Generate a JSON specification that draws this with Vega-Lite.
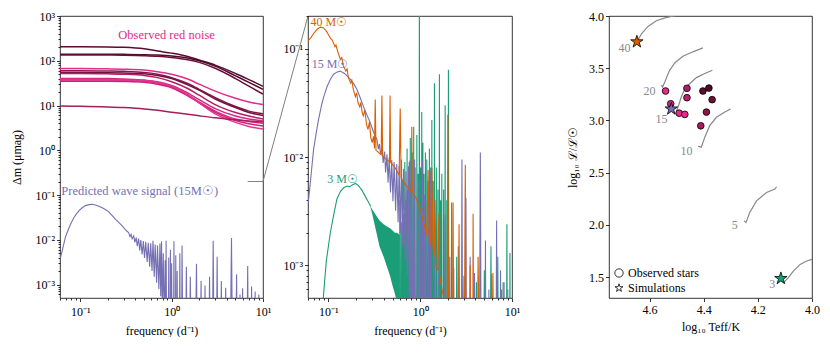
{
  "$schema": "https://vega.github.io/schema/vega-lite/v6.json",
  "padding": {"left": 10, "top": 9, "right": 0, "bottom": 0},
  "config": {
    "font": "Liberation Serif",
    "view": {"stroke": "black", "strokeWidth": 0.8},
    "axis": {"domain": false, "grid": false, "labelFont": "Liberation Serif", "titleFont": "Liberation Serif", "labelFontSize": 12, "titleFontSize": 12, "titleFontWeight": "normal", "labelColor": "black", "titleColor": "black", "tickColor": "black", "labelPadding": 2, "titlePadding": 5, "tickWidth": 0.8, "tickSize": 3.5},
    "legend": {"labelFont": "Liberation Serif", "labelFontSize": 12, "labelColor": "black"}
  },
  "datasets": {
    "noise": [
      {"f": 0.06, "c1": 205, "c2": 140, "c3": 135, "c4": 67, "c5": 60, "c6": 55, "c7": 52, "c8": 40, "c9": 37, "c10": 35, "c11": 38, "c12": 9.7},
      {"f": 0.1, "c1": 205, "c2": 140, "c3": 135, "c4": 67, "c5": 60, "c6": 55, "c7": 52, "c8": 40, "c9": 37, "c10": 35, "c11": 38, "c12": 9.6},
      {"f": 0.2, "c1": 204, "c2": 140, "c3": 134, "c4": 66, "c5": 59, "c6": 54, "c7": 51, "c8": 40, "c9": 37, "c10": 35, "c11": 38, "c12": 9.3},
      {"f": 0.3, "c1": 200, "c2": 139, "c3": 133, "c4": 65, "c5": 58, "c6": 53, "c7": 50, "c8": 39, "c9": 36.5, "c10": 34.5, "c11": 37.5, "c12": 9},
      {"f": 0.5, "c1": 185, "c2": 137, "c3": 130, "c4": 62, "c5": 55, "c6": 51, "c7": 47, "c8": 37, "c9": 35, "c10": 33, "c11": 36, "c12": 8.4},
      {"f": 0.7, "c1": 165, "c2": 134, "c3": 126, "c4": 57, "c5": 50, "c6": 47, "c7": 42, "c8": 34, "c9": 32, "c10": 30, "c11": 33, "c12": 7.8},
      {"f": 1, "c1": 148, "c2": 128, "c3": 118, "c4": 50, "c5": 42, "c6": 40, "c7": 34, "c8": 28, "c9": 26, "c10": 25, "c11": 27, "c12": 7.1},
      {"f": 1.5, "c1": 125, "c2": 115, "c3": 105, "c4": 39, "c5": 31, "c6": 29, "c7": 24, "c8": 19, "c9": 17, "c10": 16.5, "c11": 17.5, "c12": 6.4},
      {"f": 2, "c1": 104, "c2": 100, "c3": 92, "c4": 30, "c5": 23, "c6": 22, "c7": 17, "c8": 13.5, "c9": 12, "c10": 11.5, "c11": 11.5, "c12": 5.9},
      {"f": 3, "c1": 80, "c2": 76, "c3": 68, "c4": 21, "c5": 15, "c6": 14, "c7": 10.5, "c8": 8.5, "c9": 7.5, "c10": 7, "c11": 6.5, "c12": 5.3},
      {"f": 5, "c1": 52, "c2": 46, "c3": 40, "c4": 14.5, "c5": 9.5, "c6": 9, "c7": 7, "c8": 5.8, "c9": 5, "c10": 4.6, "c11": 4.2, "c12": 4.8},
      {"f": 7, "c1": 38, "c2": 33, "c3": 27, "c4": 12, "c5": 7.5, "c6": 7, "c7": 5.8, "c8": 5, "c9": 4.4, "c10": 3.9, "c11": 3.4, "c12": 4.5},
      {"f": 10, "c1": 27, "c2": 23, "c3": 18, "c4": 10.5, "c5": 6.5, "c6": 6, "c7": 5, "c8": 4.5, "c9": 4, "c10": 3.5, "c11": 3, "c12": 4.3}
    ],
    "m15": [
      {"f": 0.06, "v": 0.0038}, {"f": 0.061, "v": 0.0041}, {"f": 0.065, "v": 0.007}, {"f": 0.069, "v": 0.0117}, {"f": 0.074, "v": 0.017}, {"f": 0.078, "v": 0.022}, {"f": 0.085, "v": 0.031}, {"f": 0.09, "v": 0.037}, {"f": 0.097, "v": 0.045}, {"f": 0.105, "v": 0.052}, {"f": 0.114, "v": 0.058}, {"f": 0.125, "v": 0.061}, {"f": 0.135, "v": 0.062}, {"f": 0.15, "v": 0.059}, {"f": 0.174, "v": 0.052}, {"f": 0.19, "v": 0.047}, {"f": 0.205, "v": 0.042}, {"f": 0.22, "v": 0.036}, {"f": 0.242, "v": 0.029}, {"f": 0.26, "v": 0.025}, {"f": 0.286, "v": 0.0207}, {"f": 0.31, "v": 0.017}, {"f": 0.325, "v": 0.0155}, {"f": 0.338, "v": 0.0145},
      {"f": 0.35, "v": 0.0118}, {"f": 0.36, "v": 0.0132}, {"f": 0.37, "v": 0.0105}, {"f": 0.385, "v": 0.0122}, {"f": 0.395, "v": 0.0088}, {"f": 0.41, "v": 0.0112}, {"f": 0.42, "v": 0.0072}, {"f": 0.435, "v": 0.0106}, {"f": 0.447, "v": 0.0058}, {"f": 0.46, "v": 0.0099}, {"f": 0.475, "v": 0.0047}, {"f": 0.49, "v": 0.0094}, {"f": 0.505, "v": 0.0039}, {"f": 0.52, "v": 0.009}, {"f": 0.54, "v": 0.0032}, {"f": 0.555, "v": 0.0086}, {"f": 0.575, "v": 0.0025}, {"f": 0.59, "v": 0.0083}, {"f": 0.61, "v": 0.002}, {"f": 0.625, "v": 0.0095}, {"f": 0.645, "v": 0.0015}, {"f": 0.66, "v": 0.0078}, {"f": 0.685, "v": 0.0011}, {"f": 0.7, "v": 0.0074}, {"f": 0.725, "v": 0.0008}, {"f": 0.745, "v": 0.0082}, {"f": 0.76, "v": 0.00055}, {"f": 0.775, "v": 0.0093}, {"f": 0.79, "v": 0.0003}, {"f": 0.81, "v": 0.005}, {"f": 0.83, "v": 0.0001}, {"f": 0.85, "v": 0.0035}, {"f": 0.86, "v": 1e-8}, {"f": 0.87, "v": 0.0095}, {"f": 0.9, "v": 1e-8}, {"f": 0.93, "v": 0.004}, {"f": 0.95, "v": 1e-8}, {"f": 0.97, "v": 0.006}, {"f": 0.985, "v": 1e-8}, {"f": 1.0, "v": 0.003}, {"f": 1.03, "v": 1e-8}, {"f": 1.06, "v": 0.0093}, {"f": 1.08, "v": 1e-8}, {"f": 1.11, "v": 0.0045}, {"f": 1.13, "v": 1e-8}, {"f": 1.15, "v": 0.002}, {"f": 1.19, "v": 1e-8}, {"f": 1.23, "v": 0.005}, {"f": 1.26, "v": 1e-8}, {"f": 1.3, "v": 0.0074}, {"f": 1.37, "v": 1e-8}, {"f": 1.45, "v": 0.0025}, {"f": 1.52, "v": 1e-8}, {"f": 1.6, "v": 0.0015}, {"f": 1.73, "v": 1e-8}, {"f": 1.87, "v": 0.0029}, {"f": 1.98, "v": 1e-8}, {"f": 2.1, "v": 0.0012}, {"f": 2.2, "v": 1e-8}, {"f": 2.32, "v": 0.00095}, {"f": 2.45, "v": 1e-8}, {"f": 2.6, "v": 0.0015}, {"f": 2.72, "v": 1e-8}, {"f": 2.85, "v": 0.0095}, {"f": 3.0, "v": 1e-8}, {"f": 3.15, "v": 0.0042}, {"f": 3.3, "v": 1e-8}, {"f": 3.5, "v": 0.0012}, {"f": 3.7, "v": 1e-8}, {"f": 3.9, "v": 0.00085}, {"f": 4.2, "v": 1e-8}, {"f": 4.52, "v": 0.011}, {"f": 4.8, "v": 1e-8}, {"f": 5.14, "v": 0.0017}, {"f": 5.4, "v": 1e-8}, {"f": 5.6, "v": 0.0006}, {"f": 5.8, "v": 1e-8}, {"f": 5.98, "v": 0.00083}, {"f": 6.4, "v": 1e-8}, {"f": 6.8, "v": 0.0026}, {"f": 7.1, "v": 1e-8}, {"f": 7.5, "v": 0.0009}, {"f": 7.85, "v": 1e-8}, {"f": 8.2, "v": 0.0007}, {"f": 8.6, "v": 1e-8}, {"f": 9.0, "v": 0.0006}, {"f": 9.3, "v": 1e-8}, {"f": 9.6, "v": 0.0005}, {"f": 9.8, "v": 1e-8}
    ],
    "m3": [
      {"s": 0, "f": 0.083, "v": 1e-8}, {"s": 0, "f": 0.088, "v": 0.0005}, {"s": 0, "f": 0.095, "v": 0.0011}, {"s": 0, "f": 0.105, "v": 0.002}, {"s": 0, "f": 0.115, "v": 0.003}, {"s": 0, "f": 0.124, "v": 0.0041}, {"s": 0, "f": 0.135, "v": 0.0048}, {"s": 0, "f": 0.147, "v": 0.0052}, {"s": 0, "f": 0.16, "v": 0.0054}, {"s": 0, "f": 0.17, "v": 0.0053}, {"s": 0, "f": 0.18, "v": 0.0055}, {"s": 0, "f": 0.197, "v": 0.0057}, {"s": 0, "f": 0.21, "v": 0.0055}, {"s": 0, "f": 0.23, "v": 0.005}, {"s": 0, "f": 0.25, "v": 0.0044}, {"s": 0, "f": 0.27, "v": 0.0039}, {"s": 0, "f": 0.29, "v": 0.0035},
      {"s": 1, "f": 0.59, "v": 1e-8}, {"s": 1, "f": 0.6, "v": 0.004}, {"s": 1, "f": 0.61, "v": 1e-8}, {"s": 1, "f": 0.62, "v": 0.0025}, {"s": 1, "f": 0.63, "v": 1e-8}, {"s": 1, "f": 0.64, "v": 0.006}, {"s": 1, "f": 0.65, "v": 1e-8}, {"s": 1, "f": 0.66, "v": 0.003}, {"s": 1, "f": 0.67, "v": 1e-8}, {"s": 1, "f": 0.68, "v": 0.009}, {"s": 1, "f": 0.69, "v": 1e-8}, {"s": 1, "f": 0.7, "v": 0.004}, {"s": 1, "f": 0.71, "v": 1e-8}, {"s": 1, "f": 0.72, "v": 0.012}, {"s": 1, "f": 0.73, "v": 1e-8}, {"s": 1, "f": 0.74, "v": 0.005}, {"s": 1, "f": 0.75, "v": 1e-8}, {"s": 1, "f": 0.76, "v": 0.009}, {"s": 1, "f": 0.77, "v": 1e-8}, {"s": 1, "f": 0.78, "v": 0.015}, {"s": 1, "f": 0.79, "v": 1e-8}, {"s": 1, "f": 0.8, "v": 0.006}, {"s": 1, "f": 0.81, "v": 1e-8}, {"s": 1, "f": 0.82, "v": 0.011}, {"s": 1, "f": 0.835, "v": 1e-8}, {"s": 1, "f": 0.85, "v": 0.019}, {"s": 1, "f": 0.865, "v": 1e-8}, {"s": 1, "f": 0.88, "v": 0.008}, {"s": 1, "f": 0.9, "v": 1e-8}, {"s": 1, "f": 0.92, "v": 0.016}, {"s": 1, "f": 0.935, "v": 1e-8}, {"s": 1, "f": 0.95, "v": 0.007}, {"s": 1, "f": 0.965, "v": 1e-8}, {"s": 1, "f": 0.98, "v": 0.6}, {"s": 1, "f": 0.995, "v": 1e-8}, {"s": 1, "f": 1.01, "v": 0.008}, {"s": 1, "f": 1.025, "v": 1e-8}, {"s": 1, "f": 1.04, "v": 0.026}, {"s": 1, "f": 1.055, "v": 1e-8}, {"s": 1, "f": 1.07, "v": 0.0135}, {"s": 1, "f": 1.085, "v": 1e-8}, {"s": 1, "f": 1.1, "v": 0.007}, {"s": 1, "f": 1.12, "v": 1e-8}, {"s": 1, "f": 1.14, "v": 0.011}, {"s": 1, "f": 1.16, "v": 1e-8}, {"s": 1, "f": 1.18, "v": 0.0095}, {"s": 1, "f": 1.2, "v": 1e-8}, {"s": 1, "f": 1.22, "v": 0.006}, {"s": 1, "f": 1.24, "v": 1e-8}, {"s": 1, "f": 1.26, "v": 0.012}, {"s": 1, "f": 1.28, "v": 1e-8}, {"s": 1, "f": 1.3, "v": 0.008}, {"s": 1, "f": 1.32, "v": 1e-8}, {"s": 1, "f": 1.34, "v": 0.022}, {"s": 1, "f": 1.36, "v": 1e-8}, {"s": 1, "f": 1.38, "v": 0.006}, {"s": 1, "f": 1.405, "v": 1e-8}, {"s": 1, "f": 1.43, "v": 0.048}, {"s": 1, "f": 1.465, "v": 1e-8}, {"s": 1, "f": 1.5, "v": 0.008}, {"s": 1, "f": 1.53, "v": 1e-8}, {"s": 1, "f": 1.56, "v": 0.005}, {"s": 1, "f": 1.59, "v": 1e-8}, {"s": 1, "f": 1.62, "v": 0.058}, {"s": 1, "f": 1.645, "v": 1e-8}, {"s": 1, "f": 1.67, "v": 0.004}, {"s": 1, "f": 1.695, "v": 1e-8}, {"s": 1, "f": 1.72, "v": 0.007}, {"s": 1, "f": 1.76, "v": 1e-8}, {"s": 1, "f": 1.8, "v": 0.005}, {"s": 1, "f": 1.835, "v": 1e-8}, {"s": 1, "f": 1.87, "v": 0.03}, {"s": 1, "f": 1.91, "v": 1e-8}, {"s": 1, "f": 1.95, "v": 0.004}, {"s": 1, "f": 1.99, "v": 1e-8}, {"s": 1, "f": 2.03, "v": 0.064}, {"s": 1, "f": 2.1, "v": 1e-8}, {"s": 1, "f": 2.2, "v": 0.0038}, {"s": 1, "f": 2.35, "v": 1e-8}, {"s": 1, "f": 2.5, "v": 0.0012}, {"s": 1, "f": 2.75, "v": 1e-8}, {"s": 1, "f": 3.0, "v": 0.0008}, {"s": 1, "f": 3.5, "v": 1e-8}, {"s": 1, "f": 4.1, "v": 0.0007}, {"s": 1, "f": 4.5, "v": 1e-8}, {"s": 1, "f": 5.0, "v": 0.0009}, {"s": 1, "f": 5.4, "v": 1e-8}, {"s": 1, "f": 5.9, "v": 0.0015}, {"s": 1, "f": 6.4, "v": 1e-8}, {"s": 1, "f": 7.0, "v": 0.0012}, {"s": 1, "f": 7.5, "v": 1e-8}, {"s": 1, "f": 8.0, "v": 0.0007}, {"s": 1, "f": 8.4, "v": 1e-8}, {"s": 1, "f": 8.8, "v": 0.0024}, {"s": 1, "f": 9.15, "v": 1e-8}, {"s": 1, "f": 9.5, "v": 0.0013}, {"s": 1, "f": 9.8, "v": 1e-8}
    ],
    "m3band": [
      {"f": 0.288, "v": 0.0035, "lo": 0.0034}, {"f": 0.3, "v": 0.0033, "lo": 0.003}, {"f": 0.33, "v": 0.0029, "lo": 0.0021}, {"f": 0.36, "v": 0.0026, "lo": 0.0015}, {"f": 0.4, "v": 0.0024, "lo": 0.0012}, {"f": 0.43, "v": 0.0023, "lo": 0.001}, {"f": 0.47, "v": 0.0022, "lo": 0.0008}, {"f": 0.5, "v": 0.0021, "lo": 0.00065}, {"f": 0.53, "v": 0.002, "lo": 0.00055}, {"f": 0.56, "v": 0.002, "lo": 0.00045}, {"f": 0.6, "v": 0.0019, "lo": 0.0003}
    ],
    "m40": [
      {"f": 0.06, "v": 0.118}, {"f": 0.064, "v": 0.125}, {"f": 0.07, "v": 0.14}, {"f": 0.076, "v": 0.152}, {"f": 0.082, "v": 0.158}, {"f": 0.088, "v": 0.156}, {"f": 0.095, "v": 0.145}, {"f": 0.1, "v": 0.135}, {"f": 0.105, "v": 0.125}, {"f": 0.11, "v": 0.12}, {"f": 0.115, "v": 0.11}, {"f": 0.118, "v": 0.104}, {"f": 0.121, "v": 0.108}, {"f": 0.128, "v": 0.091}, {"f": 0.135, "v": 0.08}, {"f": 0.14, "v": 0.083}, {"f": 0.145, "v": 0.07}, {"f": 0.155, "v": 0.062}, {"f": 0.16, "v": 0.065}, {"f": 0.165, "v": 0.054}, {"f": 0.175, "v": 0.048}, {"f": 0.18, "v": 0.051}, {"f": 0.187, "v": 0.042}, {"f": 0.197, "v": 0.036}, {"f": 0.203, "v": 0.039}, {"f": 0.21, "v": 0.032}, {"f": 0.22, "v": 0.029}, {"f": 0.226, "v": 0.032}, {"f": 0.233, "v": 0.026}, {"f": 0.24, "v": 0.024}, {"f": 0.25, "v": 0.027}, {"f": 0.26, "v": 0.02}, {"f": 0.27, "v": 0.018}, {"f": 0.28, "v": 0.021}, {"f": 0.29, "v": 0.015}, {"f": 0.3, "v": 0.0136}, {"f": 0.31, "v": 0.0155}, {"f": 0.318, "v": 0.012}, {"f": 0.324, "v": 0.034}, {"f": 0.33, "v": 0.0115}, {"f": 0.345, "v": 0.0112}, {"f": 0.36, "v": 0.0108}, {"f": 0.376, "v": 0.0105}, {"f": 0.383, "v": 0.037}, {"f": 0.39, "v": 0.0102}, {"f": 0.42, "v": 0.0096}, {"f": 0.45, "v": 0.0092}, {"f": 0.463, "v": 0.009}, {"f": 0.47, "v": 0.037}, {"f": 0.477, "v": 0.0089}, {"f": 0.52, "v": 0.0082}, {"f": 0.56, "v": 0.0074}, {"f": 0.59, "v": 0.0068}, {"f": 0.606, "v": 0.028}, {"f": 0.62, "v": 0.0064}, {"f": 0.7, "v": 0.0055}, {"f": 0.78, "v": 0.0049}, {"f": 0.8, "v": 0.0048}, {"f": 0.81, "v": 0.019}, {"f": 0.82, "v": 0.0047}, {"f": 0.9, "v": 0.0042}, {"f": 1.0, "v": 0.0033}, {"f": 1.1, "v": 0.0024}, {"f": 1.18, "v": 0.0019}, {"f": 1.22, "v": 0.0076}, {"f": 1.26, "v": 0.0017}, {"f": 1.3, "v": 0.0016}, {"f": 1.34, "v": 0.0079}, {"f": 1.38, "v": 0.0014}, {"f": 1.42, "v": 0.0012}, {"f": 1.45, "v": 0.004}, {"f": 1.48, "v": 0.001}, {"f": 1.55, "v": 0.0009}, {"f": 1.6, "v": 0.003}, {"f": 1.63, "v": 0.0008}, {"f": 1.8, "v": 0.0005}, {"f": 1.9, "v": 1e-8}, {"f": 2.0, "v": 0.0245}, {"f": 2.14, "v": 1e-8}, {"f": 2.28, "v": 0.0038}, {"f": 2.46, "v": 1e-8}, {"f": 2.65, "v": 0.0024}, {"f": 2.85, "v": 1e-8}, {"f": 3.1, "v": 0.0085}, {"f": 3.3, "v": 1e-8}, {"f": 3.5, "v": 0.001}, {"f": 3.65, "v": 1e-8}, {"f": 3.77, "v": 0.003}, {"f": 4.0, "v": 1e-8}, {"f": 4.27, "v": 0.0012}, {"f": 5.2, "v": 1e-8}, {"f": 6.2, "v": 0.00085}, {"f": 6.9, "v": 1e-8}, {"f": 7.7, "v": 0.0006}, {"f": 8.0, "v": 1e-8}
    ],
    "tracks": [
      {"m": 40, "i": 0, "t": 4.645, "l": 3.76}, {"m": 40, "i": 1, "t": 4.63, "l": 3.83}, {"m": 40, "i": 2, "t": 4.606, "l": 3.9}, {"m": 40, "i": 3, "t": 4.575, "l": 3.955}, {"m": 40, "i": 4, "t": 4.54, "l": 3.985}, {"m": 40, "i": 5, "t": 4.51, "l": 4.0}, {"m": 40, "i": 6, "t": 4.49, "l": 4.01},
      {"m": 20, "i": 0, "t": 4.556, "l": 3.34}, {"m": 20, "i": 1, "t": 4.552, "l": 3.32}, {"m": 20, "i": 2, "t": 4.545, "l": 3.36}, {"m": 20, "i": 3, "t": 4.536, "l": 3.42}, {"m": 20, "i": 4, "t": 4.526, "l": 3.48}, {"m": 20, "i": 5, "t": 4.507, "l": 3.55}, {"m": 20, "i": 6, "t": 4.477, "l": 3.615}, {"m": 20, "i": 7, "t": 4.44, "l": 3.657}, {"m": 20, "i": 8, "t": 4.403, "l": 3.695},
      {"m": 15, "i": 0, "t": 4.5, "l": 3.096}, {"m": 15, "i": 1, "t": 4.492, "l": 3.15}, {"m": 15, "i": 2, "t": 4.483, "l": 3.224}, {"m": 15, "i": 3, "t": 4.472, "l": 3.29}, {"m": 15, "i": 4, "t": 4.458, "l": 3.337}, {"m": 15, "i": 5, "t": 4.427, "l": 3.41}, {"m": 15, "i": 6, "t": 4.396, "l": 3.449}, {"m": 15, "i": 7, "t": 4.368, "l": 3.48},
      {"m": 10, "i": 0, "t": 4.421, "l": 2.753}, {"m": 10, "i": 1, "t": 4.409, "l": 2.744}, {"m": 10, "i": 2, "t": 4.396, "l": 2.84}, {"m": 10, "i": 3, "t": 4.378, "l": 2.95}, {"m": 10, "i": 4, "t": 4.353, "l": 3.03}, {"m": 10, "i": 5, "t": 4.322, "l": 3.08}, {"m": 10, "i": 6, "t": 4.301, "l": 3.11},
      {"m": 5, "i": 0, "t": 4.251, "l": 2.038}, {"m": 5, "i": 1, "t": 4.244, "l": 2.022}, {"m": 5, "i": 2, "t": 4.23, "l": 2.118}, {"m": 5, "i": 3, "t": 4.205, "l": 2.23}, {"m": 5, "i": 4, "t": 4.168, "l": 2.31}, {"m": 5, "i": 5, "t": 4.137, "l": 2.343}, {"m": 5, "i": 6, "t": 4.131, "l": 2.365},
      {"m": 3, "i": 0, "t": 4.106, "l": 1.445}, {"m": 3, "i": 1, "t": 4.088, "l": 1.493}, {"m": 3, "i": 2, "t": 4.069, "l": 1.558}, {"m": 3, "i": 3, "t": 4.044, "l": 1.622}, {"m": 3, "i": 4, "t": 4.02, "l": 1.654}, {"m": 3, "i": 5, "t": 4.0, "l": 1.67}, {"m": 3, "i": 6, "t": 3.98, "l": 1.68}
    ]
  },
  "resolve": {"scale": {"x": "independent", "y": "independent", "color": "independent", "shape": "independent"}},
  "spacing": 45,
  "bounds": "flush",
  "hconcat": [
    {
      "width": 203,
      "height": 282,
      "encoding": {
        "x": {"field": "f", "type": "quantitative", "scale": {"type": "log", "domain": [0.06, 10], "nice": false},
          "axis": {"title": "frequency (d⁻¹)", "values": [0.06, 0.07, 0.08, 0.09, 0.1, 0.2, 0.3, 0.4, 0.5, 0.6, 0.7, 0.8, 0.9, 1, 2, 3, 4, 5, 6, 7, 8, 9, 10],
            "labelExpr": "abs(log(datum.value)/LN10 - round(log(datum.value)/LN10)) > 0.001 ? '' : ['10⁻³','10⁻²','10⁻¹','10⁰','10¹','10²','10³'][round(log(datum.value)/LN10)+3]",
            "labelOverlap": false, "labelFlush": false, "labelPadding": 5, "titlePadding": 8,
            "tickSize": {"condition": {"test": "abs(log(datum.value)/LN10 - round(log(datum.value)/LN10)) < 0.001", "value": 3.5}, "value": 2}}},
        "y": {"field": "v", "type": "quantitative", "scale": {"type": "log", "domain": [0.0005, 1000], "nice": false},
          "axis": {"title": "Δm (μmag)", "titlePadding": 11, "values": [0.0006, 0.0007, 0.0008, 0.0009, 0.001, 0.002, 0.003, 0.004, 0.005, 0.006, 0.007, 0.008, 0.009, 0.01, 0.02, 0.03, 0.04, 0.05, 0.06, 0.07, 0.08, 0.09, 0.1, 0.2, 0.3, 0.4, 0.5, 0.6, 0.7, 0.8, 0.9, 1, 2, 3, 4, 5, 6, 7, 8, 9, 10, 20, 30, 40, 50, 60, 70, 80, 90, 100, 200, 300, 400, 500, 600, 700, 800, 900, 1000],
            "labelExpr": "abs(log(datum.value)/LN10 - round(log(datum.value)/LN10)) > 0.001 ? '' : ['10⁻³','10⁻²','10⁻¹','10⁰','10¹','10²','10³'][round(log(datum.value)/LN10)+3]",
            "labelOverlap": false, "labelFlush": false,
            "tickSize": {"condition": {"test": "abs(log(datum.value)/LN10 - round(log(datum.value)/LN10)) < 0.001", "value": 3.5}, "value": 2}}}
      },
      "layer": [
        {
          "data": {"name": "noise"},
          "transform": [{"fold": ["c1", "c2", "c3", "c4", "c5", "c6", "c7", "c8", "c9", "c10", "c11", "c12"], "as": ["id", "v"]}],
          "mark": {"type": "line", "interpolate": "monotone", "strokeWidth": 1.5, "clip": true},
          "encoding": {"color": {"field": "id", "type": "nominal", "legend": null,
            "scale": {"domain": ["c1", "c2", "c3", "c4", "c5", "c6", "c7", "c8", "c9", "c10", "c11", "c12"],
              "range": ["#5a0c32", "#4f0a2c", "#6a1038", "#e22d8c", "#8a1648", "#6f1040", "#b01f66", "#d42683", "#e7298a", "#c8237a", "#e33590", "#a41d5c"]}}}
        },
        {"data": {"name": "m15"}, "mark": {"type": "line", "color": "#7570b3", "strokeWidth": 1.1, "clip": true}},
        {"data": {"values": [{"f": 6.8, "v": 0.2}, {"f": 10, "v": 0.2}, {"f": 31.1, "v": 1000}]}, "mark": {"type": "line", "color": "#808080", "strokeWidth": 1, "clip": false}},
        {"data": {"values": [{"f": 0.88, "v": 375, "label": "Observed red noise"}]}, "mark": {"type": "text", "color": "#e7298a", "fontSize": 12.5, "align": "center", "baseline": "middle"}, "encoding": {"text": {"field": "label"}}},
        {"data": {"values": [{"f": 0.062, "v": 0.123, "label": "Predicted wave signal (15M☉)"}]}, "mark": {"type": "text", "color": "#7570b3", "fontSize": 12.5, "align": "left", "baseline": "middle"}, "encoding": {"text": {"field": "label"}}}
      ]
    },
    {
      "width": 204,
      "height": 282,
      "encoding": {
        "x": {"field": "f", "type": "quantitative", "scale": {"type": "log", "domain": [0.06, 10], "nice": false},
          "axis": {"title": "frequency (d⁻¹)", "values": [0.06, 0.07, 0.08, 0.09, 0.1, 0.2, 0.3, 0.4, 0.5, 0.6, 0.7, 0.8, 0.9, 1, 2, 3, 4, 5, 6, 7, 8, 9, 10],
            "labelExpr": "abs(log(datum.value)/LN10 - round(log(datum.value)/LN10)) > 0.001 ? '' : ['10⁻³','10⁻²','10⁻¹','10⁰','10¹','10²','10³'][round(log(datum.value)/LN10)+3]",
            "labelOverlap": false, "labelFlush": false, "labelPadding": 5, "titlePadding": 8,
            "tickSize": {"condition": {"test": "abs(log(datum.value)/LN10 - round(log(datum.value)/LN10)) < 0.001", "value": 3.5}, "value": 2}}},
        "y": {"field": "v", "type": "quantitative", "scale": {"type": "log", "domain": [0.0005, 0.2], "nice": false},
          "axis": {"title": null, "values": [0.0006, 0.0007, 0.0008, 0.0009, 0.001, 0.002, 0.003, 0.004, 0.005, 0.006, 0.007, 0.008, 0.009, 0.01, 0.02, 0.03, 0.04, 0.05, 0.06, 0.07, 0.08, 0.09, 0.1, 0.2],
            "labelExpr": "abs(log(datum.value)/LN10 - round(log(datum.value)/LN10)) > 0.001 ? '' : ['10⁻³','10⁻²','10⁻¹','10⁰','10¹','10²','10³'][round(log(datum.value)/LN10)+3]",
            "labelOverlap": false, "labelFlush": false,
            "tickSize": {"condition": {"test": "abs(log(datum.value)/LN10 - round(log(datum.value)/LN10)) < 0.001", "value": 3.5}, "value": 2}}}
      },
      "layer": [
        {"data": {"name": "m3band"}, "mark": {"type": "area", "color": "#1b9e77", "opacity": 1, "clip": true}, "encoding": {"y2": {"field": "lo"}}},
        {"data": {"name": "m3"}, "mark": {"type": "line", "color": "#1b9e77", "strokeWidth": 1.1, "clip": true}, "encoding": {"detail": {"field": "s", "type": "nominal"}}},
        {"data": {"name": "m15"}, "mark": {"type": "line", "color": "#7570b3", "strokeWidth": 1.1, "clip": true}},
        {"data": {"name": "m40"}, "mark": {"type": "line", "color": "#d95f02", "strokeWidth": 1.1, "clip": true}},
        {"data": {"values": [{"f": 0.064, "v": 0.175, "label": "40 M☉", "c": "#d95f02"}, {"f": 0.066, "v": 0.072, "label": "15 M☉", "c": "#7570b3"}, {"f": 0.097, "v": 0.0062, "label": "3 M☉", "c": "#1b9e77"}]},
          "mark": {"type": "text", "fontSize": 12, "align": "left", "baseline": "middle"},
          "encoding": {"text": {"field": "label"}, "color": {"field": "c", "type": "nominal", "scale": null}}}
      ]
    },
    {
      "width": 7,
      "height": 282,
      "view": {"stroke": null},
      "data": {"values": [{"a": 1}]},
      "mark": {"type": "point", "opacity": 0}
    },
    {
      "width": 203,
      "height": 282,
      "encoding": {
        "x": {"field": "t", "type": "quantitative", "scale": {"domain": [4.0, 4.75], "reverse": true, "nice": false, "zero": false},
          "axis": {"title": "log₁₀ Teff/K", "values": [4.6, 4.4, 4.2, 4.0], "format": ".1f", "labelFlush": false, "labelPadding": 3, "titlePadding": 6}},
        "y": {"field": "l", "type": "quantitative", "scale": {"domain": [1.3, 4.0], "nice": false, "zero": false},
          "axis": {"title": "log₁₀ ℒ/ℒ☉", "titlePadding": 9, "values": [1.5, 2.0, 2.5, 3.0, 3.5, 4.0], "format": ".1f", "labelFlush": false}}
      },
      "layer": [
        {"data": {"name": "tracks"}, "mark": {"type": "line", "color": "#888888", "strokeWidth": 1.2, "clip": true}, "encoding": {"detail": {"field": "m", "type": "nominal"}, "order": {"field": "i", "type": "quantitative"}}},
        {"data": {"values": [{"t": 4.693, "l": 3.695, "label": "40"}, {"t": 4.6, "l": 3.28, "label": "20"}, {"t": 4.556, "l": 3.016, "label": "15"}, {"t": 4.464, "l": 2.71, "label": "10"}, {"t": 4.285, "l": 2.0, "label": "5"}, {"t": 4.147, "l": 1.43, "label": "3"}]},
          "mark": {"type": "text", "color": "#888888", "fontSize": 12, "align": "center", "baseline": "middle"}, "encoding": {"text": {"field": "label"}}},
        {"data": {"values": [
            {"t": 4.541, "l": 3.282, "c": "#e7298a", "kind": "Observed stars"},
            {"t": 4.522, "l": 3.16, "c": "#d4237f", "kind": "Observed stars"},
            {"t": 4.491, "l": 3.07, "c": "#e7298a", "kind": "Observed stars"},
            {"t": 4.47, "l": 3.058, "c": "#e7298a", "kind": "Observed stars"},
            {"t": 4.462, "l": 3.308, "c": "#b01f66", "kind": "Observed stars"},
            {"t": 4.462, "l": 3.218, "c": "#b8226c", "kind": "Observed stars"},
            {"t": 4.403, "l": 3.282, "c": "#5a0c32", "kind": "Observed stars"},
            {"t": 4.381, "l": 3.31, "c": "#4f0a2c", "kind": "Observed stars"},
            {"t": 4.369, "l": 3.199, "c": "#6a1038", "kind": "Observed stars"},
            {"t": 4.39, "l": 3.08, "c": "#8a1648", "kind": "Observed stars"},
            {"t": 4.411, "l": 2.949, "c": "#a41d5c", "kind": "Observed stars"}]},
          "mark": {"type": "point", "filled": true, "size": 45, "stroke": "black", "strokeWidth": 0.8, "opacity": 1},
          "encoding": {"fill": {"field": "c", "type": "nominal", "scale": null},
            "shape": {"field": "kind", "type": "nominal", "scale": {"domain": ["Observed stars", "Simulations"], "range": ["circle", "M0,-1L0.2245,-0.309L0.9511,-0.309L0.3633,0.118L0.5878,0.809L0,0.382L-0.5878,0.809L-0.3633,0.118L-0.9511,-0.309L-0.2245,-0.309Z"]},
              "legend": {"title": null, "orient": "bottom-left", "offset": 4, "padding": 0, "rowPadding": 3, "symbolSize": 70, "symbolFillColor": "white", "symbolStrokeColor": "black", "symbolStrokeWidth": 0.8, "labelFontSize": 12, "labelOffset": 3}}}},
        {"data": {"values": [
            {"t": 4.647, "l": 3.753, "c": "#d95f02", "kind": "Simulations"},
            {"t": 4.52, "l": 3.11, "c": "#7570b3", "kind": "Simulations"},
            {"t": 4.115, "l": 1.487, "c": "#1b9e77", "kind": "Simulations"}]},
          "mark": {"type": "point", "filled": true, "size": 170, "stroke": "black", "strokeWidth": 0.8, "opacity": 1},
          "encoding": {"fill": {"field": "c", "type": "nominal", "scale": null},
            "shape": {"field": "kind", "type": "nominal", "scale": {"domain": ["Observed stars", "Simulations"], "range": ["circle", "M0,-1L0.2245,-0.309L0.9511,-0.309L0.3633,0.118L0.5878,0.809L0,0.382L-0.5878,0.809L-0.3633,0.118L-0.9511,-0.309L-0.2245,-0.309Z"]}}}}
      ]
    }
  ]
}
